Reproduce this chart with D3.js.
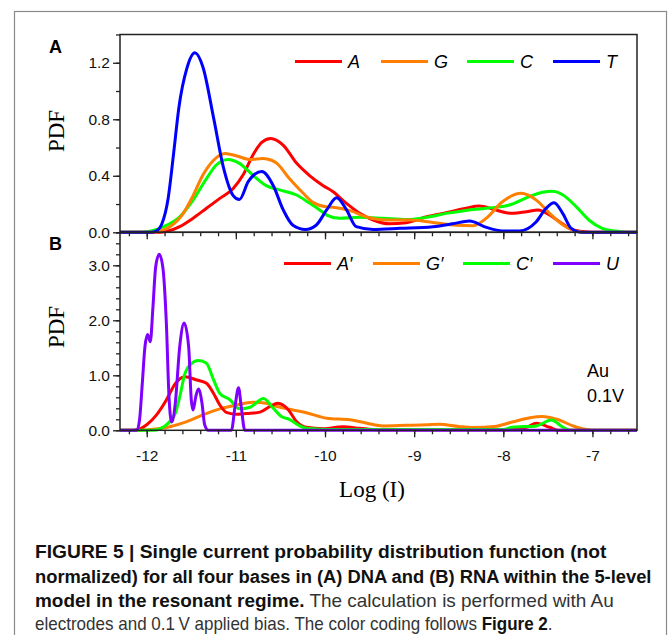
<!DOCTYPE html>
<html>
<head>
<meta charset="utf-8">
<script src="https://cdn.jsdelivr.net/npm/d3@7"></script>
<style>
  body { margin: 0; background: #fff; }
  svg { display: block; }
</style>
</head>
<body>
<svg width="669" height="635"></svg>
<script>
// ---- data: [log(I), PDF] ----
// Panel A (DNA)
var dnaA = [[-12.3,0],[-11.85,0],[-11.78,0.005],[-11.63,0.04],[-11.48,0.1],[-11.33,0.17],[-11.18,0.24],[-11.03,0.31],[-10.92,0.405],[-10.81,0.546],[-10.71,0.636],[-10.61,0.664],[-10.47,0.617],[-10.32,0.49],[-10.17,0.4],[-10.02,0.33],[-9.91,0.287],[-9.76,0.205],[-9.61,0.134],[-9.46,0.087],[-9.28,0.06],[-9.09,0.068],[-8.86,0.11],[-8.64,0.139],[-8.42,0.17],[-8.27,0.186],[-8.12,0.165],[-7.98,0.14],[-7.89,0.134],[-7.74,0.146],[-7.61,0.158],[-7.48,0.122],[-7.37,0.075],[-7.26,0.028],[-7.11,0.005],[-7.0,0],[-6.5,0]];
var dnaG = [[-12.3,0],[-11.92,0],[-11.85,0.01],[-11.74,0.04],[-11.59,0.134],[-11.48,0.26],[-11.37,0.405],[-11.25,0.51],[-11.12,0.558],[-10.99,0.54],[-10.84,0.515],[-10.7,0.523],[-10.6,0.51],[-10.54,0.488],[-10.4,0.38],[-10.25,0.28],[-10.13,0.21],[-9.98,0.18],[-9.91,0.177],[-9.72,0.153],[-9.54,0.11],[-9.31,0.087],[-9.05,0.087],[-8.79,0.07],[-8.53,0.05],[-8.34,0.047],[-8.19,0.1],[-8.01,0.216],[-7.8,0.276],[-7.63,0.228],[-7.48,0.134],[-7.33,0.052],[-7.22,0.016],[-7.1,0],[-6.5,0]];
var dnaC = [[-12.3,0],[-12.05,0],[-11.95,0.01],[-11.81,0.04],[-11.63,0.11],[-11.48,0.228],[-11.33,0.38],[-11.22,0.476],[-11.09,0.516],[-10.96,0.488],[-10.81,0.405],[-10.66,0.33],[-10.51,0.3],[-10.32,0.264],[-10.17,0.205],[-10.06,0.158],[-9.98,0.122],[-9.84,0.099],[-9.61,0.106],[-9.35,0.099],[-9.09,0.09],[-8.86,0.106],[-8.64,0.134],[-8.42,0.155],[-8.19,0.17],[-7.93,0.193],[-7.71,0.252],[-7.56,0.283],[-7.45,0.29],[-7.33,0.264],[-7.18,0.18],[-7.04,0.087],[-6.89,0.028],[-6.74,0.009],[-6.6,0],[-6.5,0]];
var dnaT = [[-12.3,0],[-11.95,0],[-11.89,0.01],[-11.83,0.06],[-11.76,0.24],[-11.7,0.55],[-11.64,0.88],[-11.55,1.16],[-11.46,1.27],[-11.37,1.17],[-11.25,0.81],[-11.14,0.46],[-11.03,0.26],[-10.96,0.232],[-10.86,0.36],[-10.71,0.43],[-10.58,0.33],[-10.47,0.16],[-10.36,0.05],[-10.22,0.02],[-10.1,0.05],[-9.98,0.16],[-9.87,0.245],[-9.76,0.16],[-9.65,0.04],[-9.46,0.02],[-9.16,0.028],[-8.79,0.04],[-8.57,0.06],[-8.38,0.08],[-8.19,0.035],[-8.01,0.01],[-7.82,0.01],[-7.63,0.075],[-7.52,0.17],[-7.43,0.21],[-7.33,0.13],[-7.24,0.03],[-7.12,0],[-6.5,0]];

// Panel B (RNA)
var rnaA = [[-12.3,0],[-12.15,0],[-12.0,0.1],[-11.89,0.28],[-11.78,0.55],[-11.68,0.85],[-11.57,0.975],[-11.44,0.915],[-11.33,0.855],[-11.25,0.67],[-11.18,0.46],[-11.1,0.32],[-10.99,0.29],[-10.84,0.31],[-10.73,0.33],[-10.62,0.43],[-10.53,0.49],[-10.41,0.37],[-10.32,0.16],[-10.21,0.055],[-10.02,0.03],[-9.8,0.065],[-9.61,0.036],[-9.4,0.01],[-8.0,0.01],[-7.74,0.055],[-7.63,0.127],[-7.48,0.055],[-7.38,0],[-6.5,0]];
var rnaG = [[-12.3,0],[-12.11,0],[-11.93,0.02],[-11.74,0.066],[-11.55,0.157],[-11.37,0.28],[-11.18,0.39],[-10.99,0.46],[-10.81,0.51],[-10.66,0.49],[-10.58,0.45],[-10.36,0.37],[-10.21,0.32],[-9.98,0.22],[-9.72,0.19],[-9.53,0.13],[-9.35,0.08],[-9.09,0.09],[-8.86,0.1],[-8.72,0.11],[-8.5,0.07],[-8.34,0.05],[-8.1,0.07],[-7.9,0.15],[-7.7,0.23],[-7.56,0.25],[-7.4,0.2],[-7.2,0.07],[-7.05,0.01],[-6.95,0],[-6.5,0]];
var rnaC = [[-12.3,0],[-11.93,0],[-11.78,0.1],[-11.68,0.31],[-11.63,0.61],[-11.57,1.04],[-11.51,1.2],[-11.42,1.27],[-11.33,1.22],[-11.25,0.915],[-11.18,0.67],[-11.07,0.56],[-10.96,0.39],[-10.84,0.42],[-10.69,0.58],[-10.58,0.4],[-10.49,0.25],[-10.4,0.2],[-10.3,0.096],[-10.21,0.036],[-10.0,0.015],[-8.0,0.015],[-7.9,0.055],[-7.63,0.08],[-7.46,0.187],[-7.33,0.055],[-7.25,0],[-6.5,0]];
var rnaU = [[-12.3,0],[-12.11,0],[-12.08,0.2],[-12.05,0.85],[-12.02,1.52],[-11.99,1.74],[-11.96,1.61],[-11.93,2.25],[-11.9,2.97],[-11.86,3.2],[-11.82,2.97],[-11.78,1.95],[-11.75,0.6],[-11.72,0.15],[-11.68,0.49],[-11.63,1.52],[-11.58,1.95],[-11.53,1.52],[-11.5,0.55],[-11.48,0.37],[-11.45,0.61],[-11.42,0.75],[-11.38,0.49],[-11.35,0.1],[-11.31,0],[-11.05,0],[-11.01,0.43],[-10.97,0.775],[-10.94,0.43],[-10.9,0],[-6.5,0]];

var namesA = ["A", "G", "C", "T"];
var namesB = ["A\u2032", "G\u2032", "C\u2032", "U"];
var colorsA = ["#ff0000", "#ff8000", "#00ff00", "#0000ff"];
var colorsB = ["#ff0000", "#ff8000", "#00ff00", "#8000ff"];

var xTicks = [-12, -11, -10, -9, -8, -7];
var yTicksA = [0, 0.4, 0.8, 1.2];
var yTicksB = [0, 1, 2, 3];

// ---- layout ----
var svg = d3.select("svg");
var left = 120, right = 637;
var sans = "'Liberation Sans', Arial, sans-serif",
    serif = "'Liberation Serif', 'Times New Roman', serif";

svg.append("rect")            // figure frame
    .attr("x", 14.5).attr("y", 11.5)
    .attr("width", 652).attr("height", 660)
    .attr("fill", "none").attr("stroke", "#8a8a8a").attr("stroke-width", 1.2);

var x = d3.scaleLinear().domain([-12.3, -6.5]).range([left, right]);

var line = function(y) {
  return d3.line()
      .x(function(d) { return x(d[0]); })
      .y(function(d) { return y(d[1]); })
      .curve(d3.curveMonotoneX);
};

function panel(opt) {
  var y = d3.scaleLinear().domain([0, opt.ymax]).range([opt.bottom, opt.top]);
  var g = svg.append("g");

  // curves, drawn in stacking order (index into series / colours)
  opt.order.forEach(function(i) {
    g.append("path")
        .attr("d", line(y)(opt.series[i]))
        .attr("fill", "none")
        .attr("stroke", opt.colors[i])
        .attr("stroke-width", 3)
        .attr("stroke-linejoin", "round");
  });

  // frame
  g.append("rect")
      .attr("x", left).attr("y", opt.top)
      .attr("width", right - left).attr("height", opt.bottom - opt.top)
      .attr("fill", "none").attr("stroke", "#222").attr("stroke-width", 1.5);

  // y axis: minor + major
  g.append("g").attr("transform", "translate(" + left + ",0)")
      .call(d3.axisLeft(y).tickValues(opt.yMinor).tickSize(4).tickFormat(""))
      .call(function(a) { a.select(".domain").remove(); });
  g.append("g").attr("transform", "translate(" + left + ",0)")
      .call(d3.axisLeft(y).tickValues(opt.yMajor).tickSize(7).tickPadding(3).tickFormat(d3.format(".1f")))
      .call(function(a) { a.select(".domain").remove(); });

  // x axis: minor + major
  g.append("g").attr("transform", "translate(0," + opt.bottom + ")")
      .call(d3.axisBottom(x).tickValues(d3.range(-61, -32).map(function(i) { return i / 5; })).tickSize(4).tickFormat(""))
      .call(function(a) { a.select(".domain").remove(); });
  g.append("g").attr("transform", "translate(0," + opt.bottom + ")")
      .call(d3.axisBottom(x).tickValues(xTicks).tickSize(7).tickPadding(13)
            .tickFormat(opt.xLabels ? function(d) { return String(d); } : ""))
      .call(function(a) { a.select(".domain").remove(); });

  g.selectAll(".tick line").attr("stroke", "#222").attr("stroke-width", 1.3);
  g.selectAll(".tick text")
      .attr("font-family", sans)
      .attr("font-size", 15.5).attr("fill", "#111");

  // y label
  g.append("text")
      .attr("transform", "translate(64," + opt.labelY + ") rotate(-90)")
      .attr("text-anchor", "middle")
      .attr("font-family", serif)
      .attr("font-size", 23)
      .text("PDF");

  // panel letter
  g.append("text")
      .attr("x", 49).attr("y", opt.top + opt.letterDy)
      .attr("font-family", sans)
      .attr("font-weight", "bold").attr("font-size", 18)
      .text(opt.letter);

  // legend
  opt.names.forEach(function(n, i) {
    var lx = opt.legendX[i];
    g.append("line")
        .attr("x1", lx).attr("x2", lx + 47)
        .attr("y1", opt.legendY).attr("y2", opt.legendY)
        .attr("stroke", opt.colors[i]).attr("stroke-width", 3.2);
    g.append("text")
        .attr("x", lx + 53).attr("y", opt.legendY + 6.5)
        .attr("font-family", sans)
        .attr("font-style", "italic").attr("font-size", 18)
        .text(n);
  });
  return g;
}

panel({
  top: 34.5, bottom: 232.3, ymax: 1.4,
  yMajor: yTicksA, yMinor: d3.range(0, 8).map(function(i) { return i / 5; }),
  series: [dnaA, dnaG, dnaC, dnaT], order: [0, 2, 1, 3],
  colors: colorsA, names: namesA,
  legendX: [295, 381, 467, 553], legendY: 61.5,
  xLabels: false, labelY: 131, letter: "A", letterDy: 18
});

var gB = panel({
  top: 232.3, bottom: 430.3, ymax: 3.6,
  yMajor: yTicksB, yMinor: d3.range(0, 19).map(function(i) { return i / 5; }),
  series: [rnaA, rnaG, rnaC, rnaU], order: [1, 0, 2, 3],
  colors: colorsB, names: namesB,
  legendX: [284, 373, 463, 553], legendY: 263.5,
  xLabels: true, labelY: 327, letter: "B", letterDy: 18
});

gB.append("text")
    .attr("x", 587).attr("y", 377)
    .attr("font-family", sans).attr("font-size", 18)
    .text("Au");
gB.append("text")
    .attr("x", 587).attr("y", 402)
    .attr("font-family", sans).attr("font-size", 18)
    .text("0.1V");

svg.append("text")
    .attr("x", 372).attr("y", 497)
    .attr("text-anchor", "middle")
    .attr("font-family", serif)
    .attr("font-size", 23)
    .text("Log (I)");

// ---- caption ----
var captionLines = [
  [["FIGURE 5 | Single current probability distribution function (not", true]],
  [["normalized) for all four bases in (A) DNA and (B) RNA within the 5-level", true]],
  [["model in the resonant regime.", true], [" The calculation is performed with Au", false]],
  [["electrodes and 0.1\u2009V applied bias. The color coding follows ", false], ["Figure 2", true], [".", false]]
];
var capBase = [558, 583, 607, 630];
var capWidth = [572, 617, 579, 518];
captionLines.forEach(function(segs, i) {
  var t = svg.append("text")
      .attr("font-family", sans)
      .attr("font-size", 17.5);
  segs.forEach(function(s) {
    t.append("tspan")
        .attr("font-weight", s[1] ? "bold" : "normal")
        .attr("fill", s[1] ? "#111" : "#333")
        .text(s[0]);
  });
  var k = capWidth[i] / t.node().getComputedTextLength();
  t.attr("transform", "translate(35," + capBase[i] + ") scale(" + k + ",1)");
});
</script>
</body>
</html>
